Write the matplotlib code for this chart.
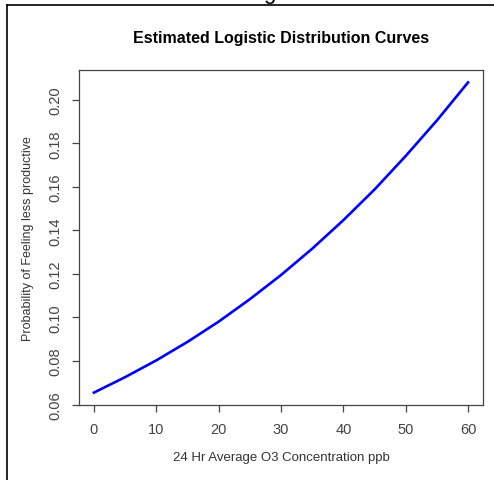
import matplotlib
matplotlib.use("Agg")
import matplotlib.pyplot as plt
from matplotlib.lines import Line2D

plt.rcParams["font.family"] = ["Liberation Sans", "DejaVu Sans"]

# values
ozone = [0, 5, 10, 15, 20, 25, 30, 35, 40, 45, 50, 55, 60]
prob = [0.0655, 0.0726, 0.0803, 0.0888, 0.0981, 0.1084, 0.1195,
        0.1316, 0.1447, 0.1588, 0.1742, 0.1905, 0.2080]

x_ticks = [0, 10, 20, 30, 40, 50, 60]
y_ticks = [0.06, 0.08, 0.10, 0.12, 0.14, 0.16, 0.18, 0.20]
y_labels = ["0.06", "0.08", "0.10", "0.12", "0.14", "0.16", "0.18", "0.20"]

fig = plt.figure(figsize=(4.94, 4.81), dpi=100)
ax = fig.add_axes([79 / 494, 75 / 481, 404 / 494, 335 / 481])

ax.plot(ozone, prob, color="#0000ff", linewidth=1.9)

# R style 4% padding
xr = max(ozone) - min(ozone)
yr = max(prob) - min(prob)
ax.set_xlim(min(ozone) - 0.04 * xr, max(ozone) + 0.04 * xr)
ax.set_ylim(min(prob) - 0.04 * yr, max(prob) + 0.04 * yr)

ax.set_xticks(x_ticks)
ax.set_yticks(y_ticks)
ax.set_yticklabels(y_labels, rotation=90, va="center")
ax.tick_params(direction="out", length=5, width=0.9, color="#444444",
               labelcolor="#444444", labelsize=10.5, pad=7)
for s in ax.spines.values():
    s.set_color("#444444")
    s.set_linewidth(0.9)

ax.set_title("Estimated Logistic Distribution Curves", fontsize=11.5,
             fontweight="bold", pad=20)
ax.set_xlabel("24 Hr Average O3 Concentration ppb", fontsize=9.5,
              color="#333333", labelpad=11)
ax.set_ylabel("Probability of Feeling less productive", fontsize=9,
              color="#333333", labelpad=10)

# outer frame lines (left and top) from the source page
fig.add_artist(Line2D([7 / 494, 7 / 494], [0, 1 - 6 / 481],
                      transform=fig.transFigure, color="black", linewidth=1.2))
fig.add_artist(Line2D([7 / 494, 1], [1 - 6 / 481, 1 - 6 / 481],
                      transform=fig.transFigure, color="black", linewidth=1.2))
# descender of a cut-off letter at the top
fig.text(269 / 494, 1 + 1 / 481, "g", fontsize=16, ha="center",
         va="baseline", color="black")

fig.savefig("out.png", dpi=100)
